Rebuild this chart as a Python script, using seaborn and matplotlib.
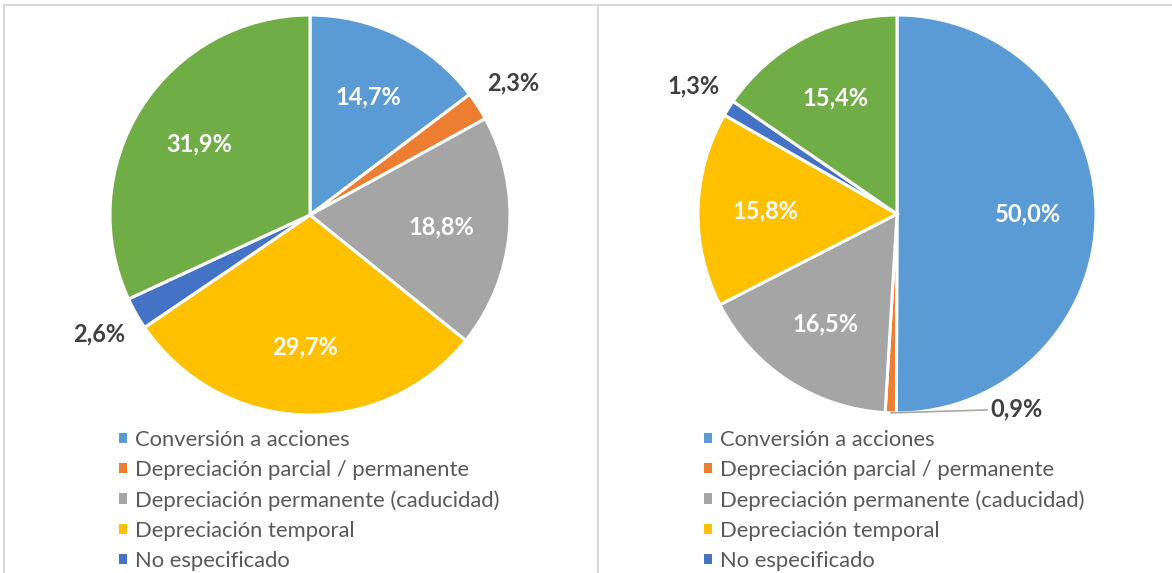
import numpy as np
import matplotlib
matplotlib.use("Agg")
import matplotlib.pyplot as plt
import seaborn as sns
from matplotlib.lines import Line2D
from matplotlib.patches import Patch

sns.set_theme(style="white")
plt.rcParams['font.family'] = ['Lato', 'DejaVu Sans']

# Data
categories = ['Conversión a acciones', 'Depreciación parcial / permanente',
              'Depreciación permanente (caducidad)', 'Depreciación temporal',
              'No especificado', 'Otros']
left_values = [14.7, 2.3, 18.8, 29.7, 2.6, 31.9]
right_values = [50.0, 0.9, 16.5, 15.8, 1.3, 15.4]
colors = ['#5B9BD5', '#ED7D31', '#A5A5A5', '#FFC000', '#4472C4', '#70AD47']

W, H = 1172, 573
fig = plt.figure(figsize=(W / 100, H / 100), dpi=100)


def draw_pie(cx, cy, r, values, outside, special=None):
    ax = fig.add_axes([(cx - r) / W, (H - cy - r) / H, 2 * r / W, 2 * r / H])
    wedges, _ = ax.pie(values, colors=colors, startangle=90, counterclock=False,
                       wedgeprops=dict(edgecolor='white', linewidth=2.2))
    ax.set_xlim(-1, 1)
    ax.set_ylim(-1, 1)
    ax.set_aspect('equal')
    ax.axis('off')
    for i, (w, v) in enumerate(zip(wedges, values)):
        ang = np.deg2rad((w.theta1 + w.theta2) / 2)
        lab = f'{v:.1f}%'.replace('.', ',')
        if special is not None and i == special:
            x0, y0 = np.cos(ang), np.sin(ang)
            ax.annotate(lab, xy=(x0, y0), xytext=(0.47, -0.98), ha='left', va='center',
                        fontsize=17, fontweight='bold', color='#404040',
                        arrowprops=dict(arrowstyle='-', color='#A6A6A6', lw=1.2,
                                        shrinkA=0, shrinkB=0),
                        annotation_clip=False)
        elif i in outside:
            ax.text(1.21 * np.cos(ang), 1.21 * np.sin(ang), lab, ha='center', va='center',
                    fontsize=17, fontweight='bold', color='#404040', clip_on=False)
        else:
            ax.text(0.66 * np.cos(ang), 0.66 * np.sin(ang), lab, ha='center', va='center',
                    fontsize=17, fontweight='bold', color='white')
    return ax


draw_pie(310, 215, 200, left_values, outside=[1, 4])
draw_pie(897, 214, 199, right_values, outside=[4], special=1)

# legends (only first five entries visible)
handles = [Patch(facecolor=c, edgecolor='none') for c in colors[:5]]
for x0 in (110, 695):
    fig.legend(handles, categories[:5], loc='upper left',
               bbox_to_anchor=(x0 / W, 1 - 421 / H), frameon=False,
               fontsize=15.8, labelcolor='#595959', handlelength=0.36, handleheight=0.36,
               handletextpad=0.4, labelspacing=0.46, borderaxespad=0)

# panel borders
bc = '#D9D9D9'
fig.add_artist(Line2D([4 / W, 4 / W], [0, 1 - 5 / H], color=bc, lw=1.5))
fig.add_artist(Line2D([598 / W, 598 / W], [0, 1 - 5 / H], color=bc, lw=1.5))
fig.add_artist(Line2D([4 / W, 1], [1 - 5 / H, 1 - 5 / H], color=bc, lw=1.5))

fig.savefig('out.png', dpi=100)
